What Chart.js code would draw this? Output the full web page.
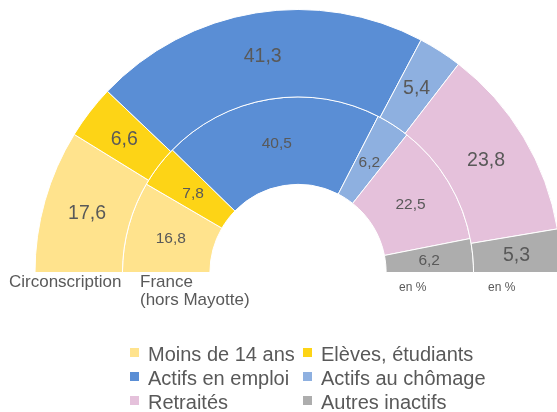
<!DOCTYPE html>
<html>
<head>
<meta charset="utf-8">
<script src="https://cdn.jsdelivr.net/npm/chart.js@4"></script>
<style>
  html, body { margin: 0; padding: 0; background: #fff; overflow: hidden; width: 557px; height: 412px; }
  #wrap { position: absolute; left: 0; top: 0; width: 562px; height: 412px; }
  .lbl { position: absolute; font-family: "Liberation Sans", Arial, sans-serif; color: #595959; white-space: nowrap; }
  .leg { position: absolute; font-family: "Liberation Sans", Arial, sans-serif; color: #595959; font-size: 20px; line-height: 24px; white-space: nowrap; }
  .leg .sq { position: absolute; left: 0; top: 6px; width: 9px; height: 9px; }
  .leg .tx { position: absolute; left: 18px; top: 0; }
</style>
</head>
<body>
<div id="wrap"><canvas id="c"></canvas></div>
<div class="lbl" style="left:9px; top:273px; font-size:17px; line-height:18px;">Circonscription</div>
<div class="lbl" style="left:140px; top:273px; font-size:17px; line-height:18px;">France<br>(hors Mayotte)</div>
<div class="lbl" style="left:399px; top:280px; font-size:12px; line-height:14px;">en %</div>
<div class="lbl" style="left:488px; top:280px; font-size:12px; line-height:14px;">en %</div>
<div id="legend"></div>
<script>
const categories = ["Moins de 14 ans", "Elèves, étudiants", "Actifs en emploi", "Actifs au chômage", "Retraités", "Autres inactifs"];
const circonscription = [17.6, 6.6, 41.3, 5.4, 23.8, 5.3];
const france = [16.8, 7.8, 40.5, 6.2, 22.5, 6.2];
const seriesNames = ["Circonscription", "France (hors Mayotte)"];
const colors = ["#FFE38D", "#FDD416", "#5A8ED5", "#8EB0E0", "#E5C1DB", "#ADADAD"];

// HTML legend in two columns
const legend = document.getElementById('legend');
const colX = [130, 303];
const rowY = [342, 366, 390];
categories.forEach((name, i) => {
  const d = document.createElement('div');
  d.className = 'leg';
  d.style.left = colX[i % 2] + 'px';
  d.style.top = rowY[Math.floor(i / 2)] + 'px';
  d.innerHTML = '<span class="sq" style="background:' + colors[i] + '"></span><span class="tx">' + name + '</span>';
  legend.appendChild(d);
});

const valueLabels = {
  id: 'valueLabels',
  afterDatasetsDraw(chart) {
    const ctx = chart.ctx;
    ctx.save();
    ctx.fillStyle = '#595959';
    ctx.textAlign = 'center';
    ctx.textBaseline = 'middle';
    chart.data.datasets.forEach((ds, di) => {
      const meta = chart.getDatasetMeta(di);
      ctx.font = (di === 0 ? '19.5px' : '15.5px') + ' "Liberation Sans", Arial, sans-serif';
      meta.data.forEach((arc, i) => {
        const p = arc.tooltipPosition();
        ctx.fillText(ds.data[i].toFixed(1).replace('.', ','), p.x, p.y + 1);
      });
    });
    ctx.restore();
  }
};

new Chart(document.getElementById('c'), {
  type: 'doughnut',
  data: {
    labels: categories,
    datasets: [
      { label: seriesNames[0], data: circonscription, backgroundColor: colors, borderColor: '#ffffff', borderWidth: 1, hoverBorderWidth: 1, hoverOffset: 0 },
      { label: seriesNames[1], data: france, backgroundColor: colors, borderColor: '#ffffff', borderWidth: 1, hoverBorderWidth: 1, hoverOffset: 0 }
    ]
  },
  options: {
    responsive: true,
    maintainAspectRatio: false,
    animation: false,
    rotation: -90,
    circumference: 180,
    cutout: '33.5%',
    layout: { padding: { left: 34, top: 9, right: 0, bottom: 139 } },
    plugins: { legend: { display: false }, tooltip: { enabled: false } },
    events: []
  },
  plugins: [valueLabels]
});
</script>
</body>
</html>
